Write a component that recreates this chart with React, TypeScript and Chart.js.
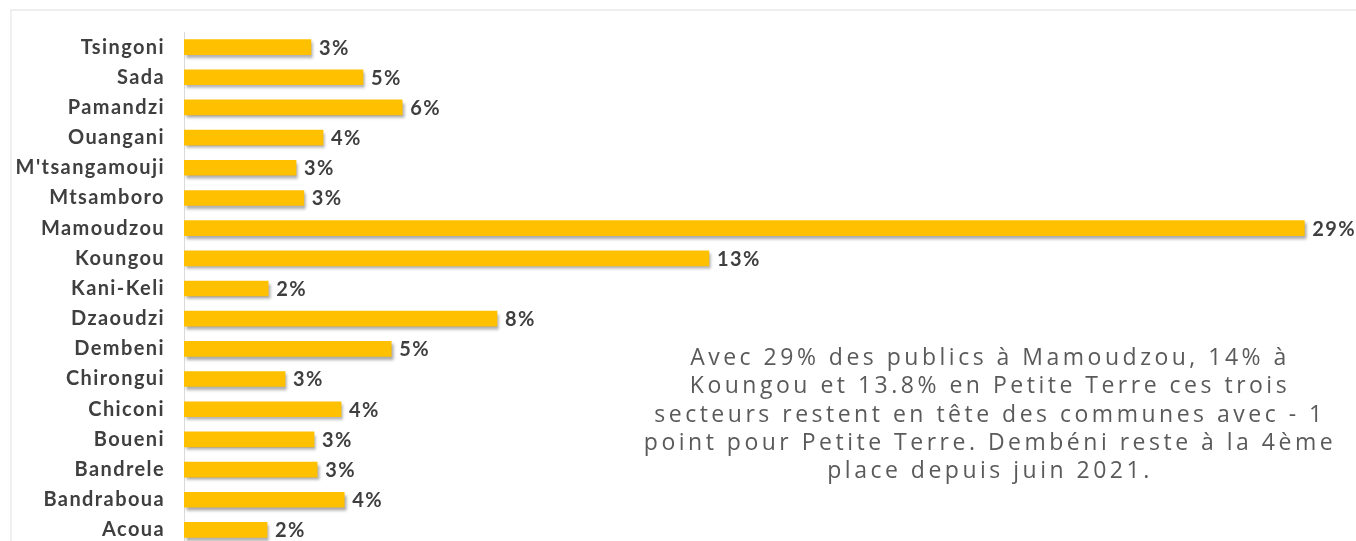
import React, { useEffect, useRef } from "react";
import { Chart, registerables } from "chart.js";

Chart.register(...registerables);

const categories = [
  "Tsingoni",
  "Sada",
  "Pamandzi",
  "Ouangani",
  "M'tsangamouji",
  "Mtsamboro",
  "Mamoudzou",
  "Koungou",
  "Kani-Keli",
  "Dzaoudzi",
  "Dembeni",
  "Chirongui",
  "Chiconi",
  "Boueni",
  "Bandrele",
  "Bandraboua",
  "Acoua",
];

const shares = [3.24, 4.57, 5.57, 3.55, 2.86, 3.06, 28.6, 13.4, 2.15, 7.99, 5.29, 2.58, 4.01, 3.32, 3.4, 4.09, 2.12];

const noteLines = [
  "Avec 29% des publics à Mamoudzou, 14% à",
  "Koungou et 13.8% en Petite Terre ces trois",
  "secteurs restent en tête des communes avec - 1",
  "point pour Petite Terre. Dembéni reste à la 4ème",
  "place depuis juin 2021.",
];

const labelFont = "bold 20px Lato";
const spacing = "1.4px";

const spacingPlugin = {
  id: "spacing",
  beforeDraw(chart: any) {
    (chart.ctx as any).letterSpacing = spacing;
  },
};

const shadowAndLabels = {
  id: "shadowAndLabels",
  beforeDatasetsDraw(chart: any) {
    const ctx = chart.ctx;
    ctx.save();
    ctx.shadowColor = "rgba(0,0,0,0.35)";
    ctx.shadowBlur = 3;
    ctx.shadowOffsetX = 2;
    ctx.shadowOffsetY = 3;
  },
  afterDatasetsDraw(chart: any) {
    const ctx = chart.ctx;
    ctx.restore();
    const meta = chart.getDatasetMeta(0);
    const data = chart.data.datasets[0].data as number[];
    ctx.save();
    (ctx as any).letterSpacing = spacing;
    ctx.font = labelFont;
    ctx.fillStyle = "#3f3f3f";
    ctx.textAlign = "left";
    ctx.textBaseline = "middle";
    meta.data.forEach((bar: any, i: number) => {
      ctx.fillText(Math.round(data[i]) + "%", bar.x + 8, bar.y + 1);
    });
    ctx.restore();
  },
};

export default function App() {
  const canvasRef = useRef<HTMLCanvasElement | null>(null);

  useEffect(() => {
    document.body.style.margin = "0";
    const chart = new Chart(canvasRef.current as HTMLCanvasElement, {
      type: "bar",
      data: {
        labels: categories,
        datasets: [
          {
            data: shares,
            backgroundColor: "#FFC000",
            borderWidth: 0,
            barThickness: 15,
          },
        ],
      },
      options: {
        indexAxis: "y",
        animation: false,
        responsive: false,
        maintainAspectRatio: false,
        layout: { padding: { top: 32, bottom: 13, left: 0, right: 36 } },
        plugins: {
          legend: { display: false },
          tooltip: { enabled: false },
        },
        scales: {
          x: { display: false, min: 0, max: 29 },
          y: {
            grid: { display: false, drawTicks: false },
            border: { display: true, color: "#d9d9d9", width: 1 },
            ticks: {
              color: "#3f3f3f",
              font: { family: "Lato", weight: "bold", size: 20 },
              padding: 19,
              autoSkip: false,
            },
            afterFit(scale: any) {
              scale.width = 184;
            },
          },
        },
      } as any,
      plugins: [spacingPlugin, shadowAndLabels],
    });
    return () => chart.destroy();
  }, []);

  return (
    <div
      style={{
        position: "fixed",
        left: 0,
        top: 0,
        width: 1356,
        height: 541,
        overflow: "hidden",
        background: "#ffffff",
      }}
    >
      <div
        style={{
          position: "absolute",
          left: 10,
          top: 9,
          width: 1346,
          height: 580,
          borderTop: "2px solid #eeeeee",
          borderLeft: "2px solid #f0f0f0",
        }}
      />
      <canvas
        ref={canvasRef}
        width={1356}
        height={576}
        style={{ position: "absolute", left: 0, top: 0, width: 1356, height: 576 }}
      />
      <div
        style={{
          position: "absolute",
          left: 640,
          top: 342,
          width: 700,
          textAlign: "center",
          fontFamily: "'Open Sans', sans-serif",
          fontSize: 23,
          lineHeight: "28.25px",
          letterSpacing: "3.5px",
          color: "#5a5a5a",
        }}
      >
        {noteLines.map((l, i) => (
          <div key={i} style={{ whiteSpace: "nowrap" }}>
            {l}
          </div>
        ))}
      </div>
    </div>
  );
}
